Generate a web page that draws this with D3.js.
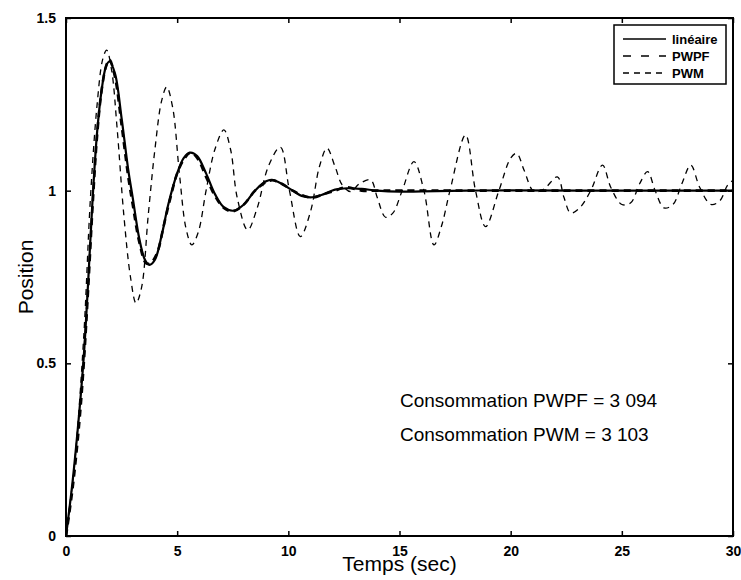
<!DOCTYPE html>
<html>
<head>
<meta charset="utf-8">
<script src="https://cdn.jsdelivr.net/npm/d3@7"></script>
<style>
    body { margin: 0; background: #fff; overflow: hidden; }
    svg { display: block; font-family: "Liberation Sans", Arial, Helvetica, sans-serif; }
</style>
</head>
<body>
<svg id="chart"></svg>
<script>
// x ticks / y ticks
const xTicks = [0, 5, 10, 15, 20, 25, 30];
const yTicks = [0, 0.5, 1, 1.5];
const yTickLabels = ["0", "0.5", "1", "1.5"];

// series: [time, position]
const lineaire = [
    [0, 0], [0.3, 0.16], [0.6, 0.36], [0.8, 0.52], [1.0, 0.74], [1.2, 0.98], [1.4, 1.17],
    [1.6, 1.29], [1.8, 1.36], [1.95, 1.374], [2.2, 1.34], [2.5, 1.21], [2.8, 1.06], [3.0, 0.98],
    [3.3, 0.86], [3.55, 0.80], [3.75, 0.785], [4.0, 0.80], [4.3, 0.87], [4.6, 0.96], [5.0, 1.05],
    [5.3, 1.095], [5.59, 1.11], [5.9, 1.10], [6.3, 1.05], [6.7, 0.99], [7.1, 0.952], [7.54, 0.942],
    [8.0, 0.96], [8.5, 1.0], [9.0, 1.027], [9.26, 1.031], [9.7, 1.02], [10.2, 1.0], [10.6, 0.985],
    [11.07, 0.981], [11.6, 0.99], [12.1, 1.003], [12.64, 1.007], [13.3, 1.005], [14, 1.0],
    [15, 0.997], [16, 0.998], [18, 1.0], [20, 1.001], [25, 1.0], [30, 1.0]
];

const pwpf = [
    [0, 0], [0.3, 0.14], [0.6, 0.33], [0.8, 0.50], [1.0, 0.72], [1.2, 0.96], [1.4, 1.16],
    [1.6, 1.29], [1.8, 1.36], [1.95, 1.38], [2.2, 1.33], [2.5, 1.19], [2.8, 1.04], [3.0, 0.96],
    [3.3, 0.85], [3.6, 0.79], [3.8, 0.79], [4.1, 0.82], [4.4, 0.90], [4.7, 0.98], [5.0, 1.05],
    [5.3, 1.09], [5.6, 1.11], [5.9, 1.095], [6.3, 1.04], [6.7, 0.985], [7.1, 0.95], [7.5, 0.94],
    [8.0, 0.96], [8.5, 1.0], [9.0, 1.025], [9.3, 1.03], [9.7, 1.02], [10.2, 1.0], [10.7, 0.985],
    [11.1, 0.98], [11.6, 0.99], [12.1, 1.0], [12.6, 1.01], [13.3, 1.0], [14, 1.0], [20, 1.0], [30, 1.0]
];

const pwm = [
    [0, 0], [0.4, 0.22], [0.8, 0.58], [1.1, 0.98], [1.4, 1.25], [1.65, 1.38], [1.83, 1.407],
    [2.05, 1.35], [2.3, 1.18], [2.6, 0.93], [2.9, 0.75], [3.15, 0.674], [3.4, 0.72], [3.7, 0.93],
    [4.0, 1.12], [4.3, 1.26], [4.53, 1.30], [4.8, 1.24], [5.1, 1.05], [5.4, 0.89], [5.66, 0.843],
    [5.95, 0.88], [6.3, 1.0], [6.7, 1.12], [7.1, 1.176], [7.4, 1.12], [7.7, 0.98], [8.17, 0.886],
    [8.6, 0.95], [9.1, 1.07], [9.64, 1.126], [10.05, 1.0], [10.54, 0.867], [11.0, 0.94],
    [11.4, 1.07], [11.74, 1.123], [12.1, 1.07], [12.42, 1.017], [12.8, 0.997], [13.2, 1.02],
    [13.7, 1.031], [14.0, 0.98], [14.37, 0.923], [14.7, 0.935], [15.12, 1.0], [15.65, 1.084],
    [16.1, 1.0], [16.55, 0.843], [16.9, 0.90], [17.27, 1.0], [17.97, 1.161], [18.42, 1.0],
    [18.87, 0.896], [19.47, 1.0], [20.0, 1.094], [20.27, 1.108], [20.6, 1.06], [21.05, 0.997],
    [21.5, 1.005], [22.1, 1.04], [22.4, 0.98], [22.7, 0.935], [23.1, 0.95], [23.6, 1.0],
    [24.13, 1.074], [24.5, 1.01], [25.0, 0.96], [25.4, 0.965], [25.8, 1.02], [26.16, 1.055],
    [26.5, 1.0], [26.9, 0.95], [27.3, 0.96], [27.7, 1.02], [28.1, 1.074], [28.5, 1.01],
    [29.0, 0.96], [29.4, 0.97], [29.76, 1.016], [30, 1.03]
];

const seriesNames = ["linéaire", "PWPF", "PWM"];
const notes = ["Consommation PWPF = 3 094", "Consommation PWM = 3 103"];

const width = 741, height = 580;
const margin = {top: 18, right: 8, bottom: 44, left: 66};
const innerWidth = width - margin.left - margin.right;
const innerHeight = height - margin.top - margin.bottom;

const svg = d3.select("#chart")
    .attr("width", width)
    .attr("height", height);

const g = svg.append("g")
    .attr("transform", `translate(${margin.left},${margin.top})`);

// Scales
const x = d3.scaleLinear().domain([0, 30]).range([0, innerWidth]);
const y = d3.scaleLinear().domain([0, 1.5]).range([innerHeight, 0]);

g.append("clipPath").attr("id", "clip")
    .append("rect").attr("width", innerWidth).attr("height", innerHeight);

const line = d3.line()
    .x(d => x(d[0]))
    .y(d => y(d[1]))
    .curve(d3.curveCatmullRom.alpha(0.5));

const styles = [
    {data: lineaire, width: 2.2, dash: null},
    {data: pwpf, width: 2.6, dash: "7,5"},
    {data: pwm, width: 1.3, dash: "6,5"}
];

const plot = g.append("g").attr("clip-path", "url(#clip)");

// draw PWM first, then PWPF, then the linear one on top
[2, 1, 0].forEach(i => {
    plot.append("path")
        .datum(styles[i].data)
        .attr("fill", "none")
        .attr("stroke", "#000")
        .attr("stroke-width", styles[i].width)
        .attr("stroke-dasharray", styles[i].dash)
        .attr("d", line);
});

// Axes (MATLAB style: inner ticks on all four sides)
const tickLen = 5;
g.append("g")
    .attr("transform", `translate(0,${innerHeight})`)
    .call(d3.axisBottom(x).tickValues(xTicks).tickSizeInner(-tickLen).tickSizeOuter(0).tickPadding(10))
    .call(ax => ax.select(".domain").remove());
g.append("g")
    .call(d3.axisTop(x).tickValues(xTicks).tickSizeInner(-tickLen).tickSizeOuter(0))
    .call(ax => ax.select(".domain").remove())
    .call(ax => ax.selectAll("text").remove());
g.append("g")
    .call(d3.axisLeft(y).tickValues(yTicks).tickSizeInner(-tickLen).tickSizeOuter(0).tickPadding(10)
        .tickFormat((d, i) => yTickLabels[i]))
    .call(ax => ax.select(".domain").remove());
g.append("g")
    .attr("transform", `translate(${innerWidth},0)`)
    .call(d3.axisRight(y).tickValues(yTicks).tickSizeInner(-tickLen).tickSizeOuter(0))
    .call(ax => ax.select(".domain").remove())
    .call(ax => ax.selectAll("text").remove());

g.selectAll(".tick line").attr("stroke", "#000").attr("stroke-width", 1.5);
g.selectAll(".tick text")
    .attr("fill", "#000")
    .style("font-size", "14px")
    .style("font-weight", "bold")
    .style("font-family", "\"Liberation Sans\", Arial, sans-serif");

g.append("rect")
    .attr("width", innerWidth)
    .attr("height", innerHeight)
    .attr("fill", "none")
    .attr("stroke", "#000")
    .attr("stroke-width", 2);

// Axis labels
svg.append("text")
    .attr("x", margin.left + innerWidth / 2)
    .attr("y", 571)
    .attr("text-anchor", "middle")
    .style("font-size", "21px")
    .text("Temps (sec)");

svg.append("text")
    .attr("transform", `translate(33,277) rotate(-90)`)
    .attr("text-anchor", "middle")
    .style("font-size", "21px")
    .text("Position");

// Annotations
notes.forEach((t, i) => {
    svg.append("text")
        .attr("x", 400)
        .attr("y", 407 + i * 34)
        .style("font-size", "19px")
        .text(t);
});

// Legend
const legend = svg.append("g");
legend.append("rect")
    .attr("x", 614)
    .attr("y", 25)
    .attr("width", 112)
    .attr("height", 59)
    .attr("fill", "#fff")
    .attr("stroke", "#000")
    .attr("stroke-width", 1.5);

const legendDash = [null, "8,10", "6,5"];
seriesNames.forEach((name, i) => {
    const cy = 39 + i * 17;
    legend.append("line")
        .attr("x1", 623).attr("x2", 666)
        .attr("y1", cy).attr("y2", cy)
        .attr("stroke", "#000")
        .attr("stroke-width", 1.3)
        .attr("stroke-dasharray", legendDash[i]);
    legend.append("text")
        .attr("x", 672)
        .attr("y", cy + 4.5)
        .style("font-size", "13px")
        .style("font-weight", "bold")
        .text(name);
});
</script>
</body>
</html>
